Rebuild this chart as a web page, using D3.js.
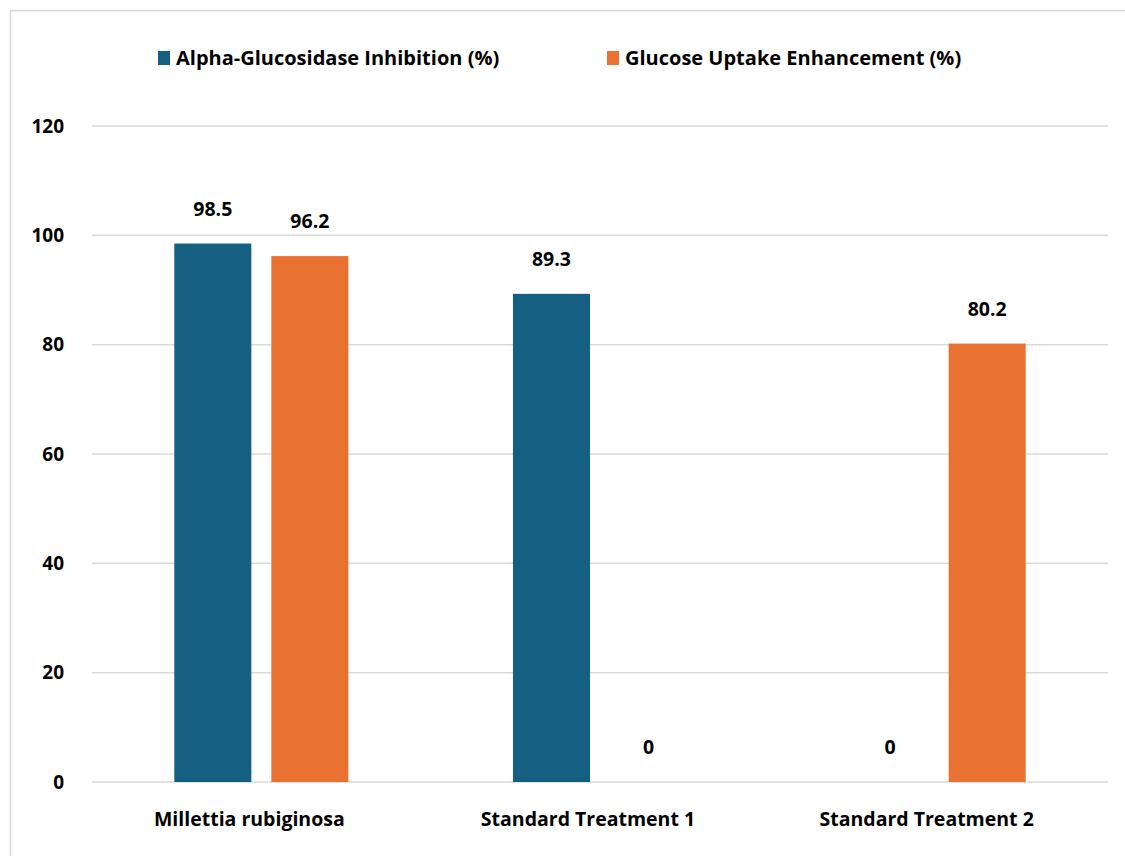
<!DOCTYPE html>
<html>
<head>
<meta charset="utf-8">
<script src="https://cdn.jsdelivr.net/npm/d3@7"></script>
<style>
  html, body { margin: 0; padding: 0; background: #ffffff; }
  svg { display: block; }
  text { font-family: "Open Sans", "Noto Sans", sans-serif; font-weight: 700; fill: #000; }
</style>
</head>
<body>
<svg id="chart" width="1125" height="856"></svg>
<script>
// Categories, series and tick values
const categories = ["Millettia rubiginosa", "Standard Treatment 1", "Standard Treatment 2"];
const seriesNames = ["Alpha-Glucosidase Inhibition (%)", "Glucose Uptake Enhancement (%)"];
const alphaInhibition = [98.5, 89.3, 0];
const glucoseUptake = [96.2, 0, 80.2];
const yTicks = [0, 20, 40, 60, 80, 100, 120];
const colors = ["#156082", "#E97132"];

const seriesValues = [alphaInhibition, glucoseUptake];
const rows = categories.map((c, i) => ({
  category: c,
  values: seriesNames.map((s, j) => ({ series: s, index: j, value: seriesValues[j][i] }))
}));

const svg = d3.select("#chart");

// Outer chart frame (left and top edges visible in the window)
svg.append("rect")
  .attr("x", 10.5).attr("y", 10.5)
  .attr("width", 1200).attr("height", 900)
  .attr("fill", "#fff")
  .attr("stroke", "#d9d9d9").attr("stroke-width", 1.5);

const plot = { left: 92, right: 1108, top: 126, bottom: 782 };

const y = d3.scaleLinear().domain([0, 120]).range([plot.bottom, plot.top]);

const x0 = d3.scaleBand()
  .domain(categories)
  .range([plot.left, plot.right])
  .paddingInner(0.486)
  .paddingOuter(0.243);

const x1 = d3.scaleBand()
  .domain(seriesNames)
  .range([0, x0.bandwidth()])
  .paddingInner(0.206)
  .paddingOuter(0);

// Horizontal gridlines
svg.append("g")
  .selectAll("line")
  .data(yTicks)
  .join("line")
  .attr("x1", plot.left).attr("x2", plot.right)
  .attr("y1", d => y(d)).attr("y2", d => y(d))
  .attr("stroke", "#d9d9d9").attr("stroke-width", 1.5);

// Y-axis tick labels
svg.append("g")
  .selectAll("text")
  .data(yTicks)
  .join("text")
  .attr("x", 64)
  .attr("y", d => y(d))
  .attr("dy", "0.35em")
  .attr("text-anchor", "end")
  .style("font-size", "19px")
  .text(d => d);

// Bars
const groups = svg.append("g")
  .selectAll("g")
  .data(rows)
  .join("g")
  .attr("transform", d => `translate(${x0(d.category)},0)`);

groups.selectAll("rect")
  .data(d => d.values)
  .join("rect")
  .attr("x", d => x1(d.series))
  .attr("y", d => y(d.value))
  .attr("width", x1.bandwidth())
  .attr("height", d => y(0) - y(d.value))
  .attr("fill", d => colors[d.index]);

// Value labels above bars
groups.selectAll("text")
  .data(d => d.values)
  .join("text")
  .attr("x", d => x1(d.series) + x1.bandwidth() / 2)
  .attr("y", d => y(d.value) - 28)
  .attr("text-anchor", "middle")
  .style("font-size", "19.5px")
  .text(d => d.value);

// Category labels
svg.append("g")
  .selectAll("text")
  .data(categories)
  .join("text")
  .attr("x", d => x0(d) + x0.bandwidth() / 2 - 12)
  .attr("y", 826)
  .attr("text-anchor", "middle")
  .style("font-size", "19.5px")
  .text(d => d);

// Legend
const legendX = [158, 607];
const legend = svg.append("g")
  .selectAll("g")
  .data(seriesNames)
  .join("g")
  .attr("transform", (d, i) => `translate(${legendX[i]},51)`);

legend.append("rect")
  .attr("x", 0).attr("y", 0)
  .attr("width", 12).attr("height", 14)
  .attr("fill", (d, i) => colors[i]);

legend.append("text")
  .attr("x", 18).attr("y", 14)
  .style("font-size", "20px")
  .text(d => d);
</script>
</body>
</html>
